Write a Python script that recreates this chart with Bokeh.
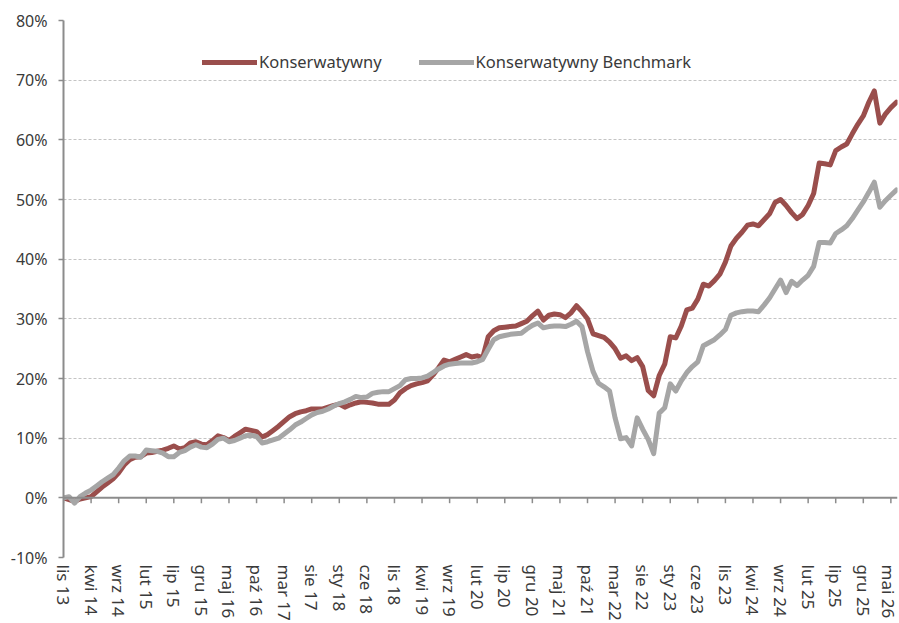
from bokeh.plotting import figure
from bokeh.models import Range1d, FixedTicker, Span, Legend, LegendItem, ColumnDataSource
from bokeh.embed import file_html
from bokeh.resources import INLINE

tick_labels = ["lis 13", "kwi 14", "wrz 14", "lut 15", "lip 15", "gru 15", "maj 16", "paź 16",
               "mar 17", "sie 17", "sty 18", "cze 18", "lis 18", "kwi 19", "wrz 19", "lut 20",
               "lip 20", "gru 20", "maj 21", "paź 21", "mar 22", "sie 22", "sty 23", "cze 23",
               "lis 23", "kwi 24", "wrz 24", "lut 25", "lip 25", "gru 25", "mai 26"]

konserwatywny = [
    0.0, -0.3, -0.6, -0.2, 0.0, 0.2, 1.0, 1.8, 2.5, 3.2,
    4.2, 5.5, 6.4, 6.8, 6.9, 7.5, 7.6, 7.8, 8.0, 8.3,
    8.7, 8.2, 8.4, 9.2, 9.4, 9.0, 8.9, 9.6, 10.4, 10.1,
    9.6, 10.3, 10.9, 11.5, 11.3, 11.1, 10.2, 10.6, 11.3, 12.0,
    12.8, 13.6, 14.1, 14.4, 14.6, 14.9, 14.9, 14.9, 15.2, 15.5,
    15.7, 15.2, 15.6, 15.9, 16.1, 16.0, 15.9, 15.7, 15.7, 15.7,
    16.4, 17.6, 18.3, 18.8, 19.1, 19.3, 19.6, 20.6, 21.8, 23.1,
    22.8, 23.2, 23.6, 24.0, 23.6, 23.8, 23.5, 27.0, 28.0, 28.5,
    28.6, 28.7, 28.8, 29.2, 29.6, 30.5, 31.3, 29.8, 30.6, 30.8,
    30.7, 30.2, 31.0, 32.2, 31.2, 30.0, 27.5, 27.2, 26.9, 26.1,
    25.0, 23.4, 23.8, 23.0, 23.5, 22.0, 18.0, 17.1, 20.5, 22.4,
    27.0, 26.8, 28.8, 31.5, 31.8, 33.3, 35.8, 35.5, 36.4, 37.5,
    39.5, 42.2, 43.5, 44.5, 45.7, 45.9, 45.6, 46.6, 47.6, 49.5,
    50.0, 49.0, 47.8, 46.8, 47.5, 49.0, 51.0, 56.1, 56.0, 55.8,
    58.2, 58.8, 59.3, 61.0, 62.6, 64.0, 66.3, 68.2, 62.8, 64.3,
    65.4, 66.3]

benchmark = [
    0.0, 0.2, -0.9, 0.2, 0.8, 1.3, 2.0, 2.7, 3.3, 3.9,
    5.0, 6.2, 7.0, 7.0, 6.8, 8.0, 7.9, 7.8, 7.5, 6.9,
    6.9, 7.6, 7.9, 8.5, 8.9, 8.5, 8.4, 9.0, 9.8, 10.0,
    9.4, 9.6, 10.0, 10.4, 10.5, 10.3, 9.2, 9.4, 9.7, 10.0,
    10.7, 11.4, 12.2, 12.7, 13.3, 13.9, 14.3, 14.5, 14.9, 15.4,
    15.8, 16.1, 16.5, 17.0, 16.8, 16.9, 17.5, 17.7, 17.8, 17.8,
    18.3, 18.8, 19.8, 20.0, 20.0, 20.1, 20.4, 21.0, 21.6, 22.1,
    22.4, 22.5, 22.6, 22.6, 22.6, 22.8, 23.2, 24.9, 26.5, 27.0,
    27.2, 27.4, 27.5, 27.6, 28.3, 28.9, 29.3, 28.5, 28.7, 28.8,
    28.8, 28.7, 29.1, 29.6, 28.7, 24.5, 21.2, 19.2, 18.6, 17.9,
    13.4, 9.9, 10.1, 8.7, 13.4, 11.5, 9.8, 7.4, 14.2, 15.1,
    19.1, 17.9, 19.6, 21.0, 22.0, 22.8, 25.5, 26.0, 26.5, 27.3,
    28.2, 30.6, 31.0, 31.2, 31.3, 31.3, 31.2, 32.3, 33.5, 35.0,
    36.5, 34.4, 36.3, 35.6, 36.5, 37.3, 38.8, 42.8, 42.8, 42.7,
    44.3, 44.9, 45.6, 46.8, 48.2, 49.6, 51.2, 52.9, 48.7, 49.8,
    50.7, 51.6]

y_ticks = [-10, 0, 10, 20, 30, 40, 50, 60, 70, 80]
months = list(range(len(konserwatywny)))
tick_pos = [i * 5 for i in range(len(tick_labels))]

FONT = "Noto Sans"
TXT = "#3a3a3a"
AXIS = "#8c8c8c"
RED = "#9a4e4c"
GRAY = "#a6a6a6"

p = figure(width=899, height=623, output_backend="svg", toolbar_location=None,
           x_range=Range1d(0, 151.2), y_range=Range1d(-10, 80),
           min_border_left=63, min_border_right=2, min_border_top=20, min_border_bottom=66)
p.outline_line_color = None
p.background_fill_color = "white"
p.border_fill_color = "white"

# y axis
p.yaxis.ticker = FixedTicker(ticks=y_ticks)
p.yaxis.major_label_overrides = {v: f"{v}%" for v in y_ticks}
p.yaxis.axis_line_color = AXIS
p.yaxis.axis_line_width = 2
p.yaxis.major_tick_line_color = AXIS
p.yaxis.major_tick_line_width = 1.5
p.yaxis.major_tick_in = 0
p.yaxis.major_tick_out = 5
p.yaxis.minor_tick_line_color = None
p.yaxis.major_label_standoff = 11
p.yaxis.major_label_text_font = FONT
p.yaxis.major_label_text_font_size = "16px"
p.yaxis.major_label_text_color = TXT

# x axis: labels only at the bottom
p.xaxis.ticker = FixedTicker(ticks=tick_pos)
p.xaxis.major_label_overrides = {pos: lab for pos, lab in zip(tick_pos, tick_labels)}
p.xaxis.axis_line_color = None
p.xaxis.major_tick_line_color = None
p.xaxis.major_tick_in = 0
p.xaxis.major_tick_out = 0
p.xaxis.minor_tick_line_color = None
p.xaxis.minor_tick_in = 0
p.xaxis.minor_tick_out = 0
p.xaxis.major_label_orientation = "vertical"
p.xaxis.major_label_standoff = 7
p.xaxis.major_label_text_font = FONT
p.xaxis.major_label_text_font_size = "17px"
p.xaxis.major_label_text_color = TXT

# grid
p.xgrid.grid_line_color = None
p.ygrid.ticker = FixedTicker(ticks=[t for t in y_ticks if t != 0])
p.ygrid.grid_line_color = "#c4c4c4"
p.ygrid.grid_line_dash = "3 2"
p.ygrid.grid_line_width = 1

# zero axis line with ticks
p.add_layout(Span(location=0, dimension="width", line_color=AXIS, line_width=2))
tick_src = ColumnDataSource(dict(x=tick_pos, y0=[0] * len(tick_pos), y1=[-0.9] * len(tick_pos)))
p.segment(x0="x", x1="x", y0="y0", y1="y1", source=tick_src, line_color=AXIS, line_width=1.5)

src = ColumnDataSource(dict(m=months, k=konserwatywny, b=benchmark))
r1 = p.line("m", "k", source=src, line_color=RED, line_width=5, line_join="round", line_cap="round")
r2 = p.line("m", "b", source=src, line_color=GRAY, line_width=5, line_join="round", line_cap="round")

legend = Legend(items=[LegendItem(label="Konserwatywny", renderers=[r1]),
                       LegendItem(label="Konserwatywny Benchmark", renderers=[r2])],
                orientation="horizontal", location=(139, 484),
                glyph_width=55, glyph_height=20, label_standoff=2, spacing=37,
                padding=0, margin=0, border_line_color=None, background_fill_alpha=0,
                label_text_font=FONT, label_text_font_size="16.5px", label_text_color=TXT)
p.add_layout(legend)

open("out.html", "w").write(file_html(p, INLINE))
